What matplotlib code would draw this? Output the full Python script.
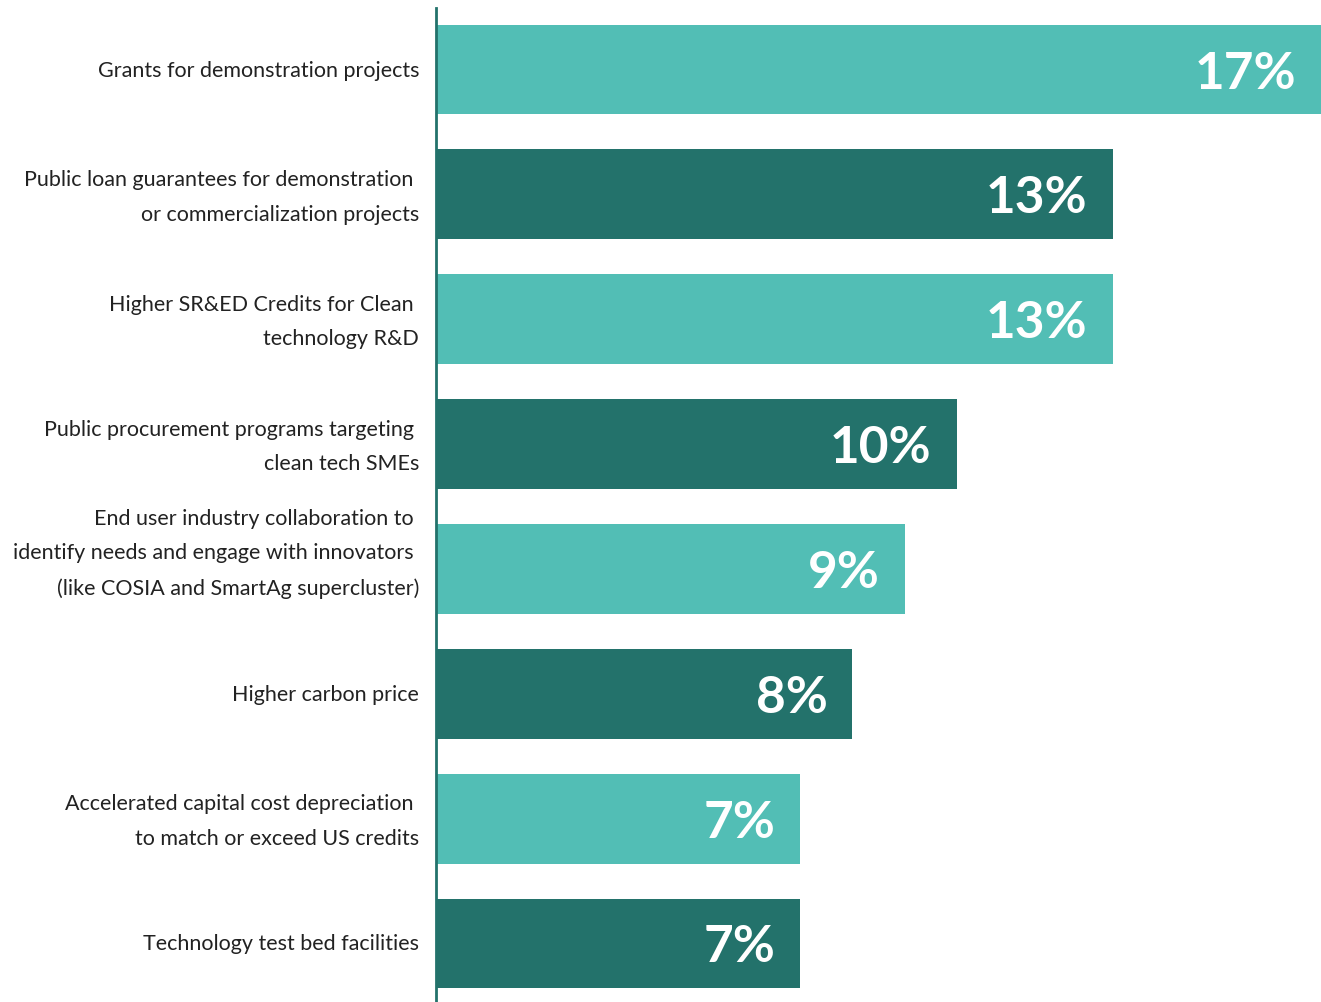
"""Horizontal bar chart of preferred clean-tech support policies (share of responses)."""

import matplotlib
matplotlib.use("Agg")
import matplotlib.pyplot as plt
from matplotlib.transforms import blended_transform_factory, offset_copy

POLICIES = [
    "Grants for demonstration projects",
    "Public loan guarantees for demonstration \nor commercialization projects",
    "Higher SR&ED Credits for Clean \ntechnology R&D",
    "Public procurement programs targeting \nclean tech SMEs",
    "End user industry collaboration to \nidentify needs and engage with innovators \n(like COSIA and SmartAg supercluster)",
    "Higher carbon price",
    "Accelerated capital cost depreciation \nto match or exceed US credits",
    "Technology test bed facilities",
]
SHARES = [17, 13, 13, 10, 9, 8, 7, 7]  # percent

LIGHT, DARK = "#52beb5", "#23726b"

fig = plt.figure(figsize=(13.21, 10.02), dpi=100)
ax = fig.add_axes([436 / 1321, 0, 1 - 436 / 1321, 1])

ypos = list(range(len(SHARES)))
colors = [LIGHT if i % 2 == 0 else DARK for i in ypos]
ax.barh(ypos, SHARES, height=0.72, color=colors, zorder=2)

for y, v in zip(ypos, SHARES):
    ax.text(v - 0.48, y, f"{v}%", ha="right", va="center_baseline", color="white",
            fontsize=37, fontweight="bold", family="Lato")

# category labels left of the axis; the long three-line one sits higher than its bar
base = blended_transform_factory(ax.transAxes, ax.transData)
for y, label in zip(ypos, POLICIES):
    lines = label.count("\n")
    lift = -1 if lines == 0 else -3
    if lines >= 2:
        lift += 18
    tr = offset_copy(base, fig=fig, x=-17, y=lift, units="dots")
    ax.text(0, y, label, transform=tr, ha="right", va="center", multialignment="right",
            fontsize=15.5, family="Lato", color="#222222", linespacing=1.9)

ax.set_xlim(0, 17)
ax.set_ylim(7.469, -0.557)
ax.set_yticks([])
ax.set_xticks([])
for side in ("top", "right", "bottom"):
    ax.spines[side].set_visible(False)
ax.spines["left"].set_color(DARK)
ax.spines["left"].set_linewidth(2)
ax.spines["left"].set_bounds(7.469, -0.49)

fig.savefig("out.png", dpi=100)
